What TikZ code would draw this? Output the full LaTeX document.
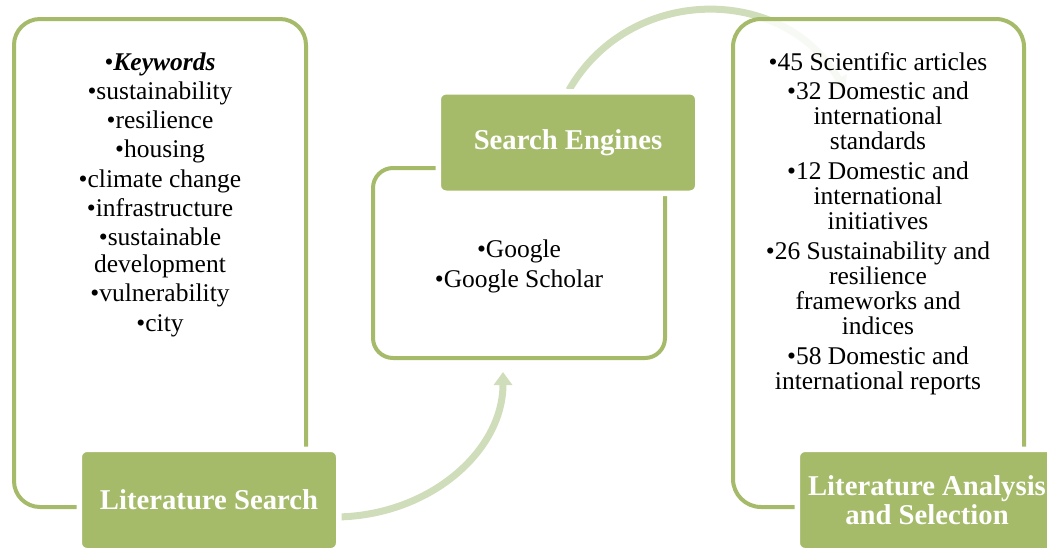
\documentclass[tikz,border=0pt]{standalone}
\usepackage{fontspec}
\setmainfont{Liberation Serif}
\usetikzlibrary{arrows.meta}
\definecolor{boxgreen}{RGB}{165,187,106}
\definecolor{flowgreen}{RGB}{208,221,186}
\begin{document}
\begin{tikzpicture}[x=1pt,y=-1pt,
  frame/.style={draw=boxgreen, line width=4pt, rounded corners=#1,
    inner sep=0pt, outer sep=0pt},
  headbox/.style={fill=boxgreen, draw=white, line width=5.5pt,
    rounded corners=7.75pt, minimum width=259.5pt, minimum height=101.5pt,
    inner sep=0pt, text=white, align=center,
    font=\fontsize{28.7}{29.5}\selectfont\bfseries},
  body/.style={align=center, inner sep=0pt, text=black},
  flow/.style={draw=flowgreen, line width=7pt,
    -{Triangle[width=18pt,length=13pt]}}
]
\useasboundingbox (0,0) rectangle (1047,549);
\clip (0,0) rectangle (1047,549);

% connectors between the steps
\coordinate (a1s) at (334,517);
\coordinate (a1e) at (503,372);
\draw[flow] (a1s) .. controls (428,517) and (503,452) .. (a1e);
\coordinate (a2s) at (569,90);
\coordinate (a2e) at (845,90);
\draw[flow] (a2s) .. controls (630,-16) and (784,-16) .. (a2e);

% outlined content panels
\node[frame=26pt, minimum width=292pt, minimum height=488pt] (lframe) at (160,263) {};
\node[frame=20pt, minimum width=292pt, minimum height=190pt] (mframe) at (519,263) {};
\node[frame=28pt, fill=white, fill opacity=0.85, minimum width=291pt,
  minimum height=488pt] (rframe) at (878.5,263) {};

% step headers
\node[headbox] (ls) at (209,500) {Literature Search};
\node[headbox] (se) at (568,142.5) {Search Engines};
\node[headbox] (la) at (927,500) {Literature Analysis\\and Selection};

% panel contents (base anchor sits on the last line)
\node[body, anchor=base, font=\fontsize{25.5}{27}\selectfont] (ltext) at (160,331)
  {\textbullet\textbf{\textit{Keywords}}\\[2.25pt]
   \textbullet sustainability\\[2.25pt]
   \textbullet resilience\\[2.25pt]
   \textbullet housing\\[2.25pt]
   \textbullet climate change\\[2.25pt]
   \textbullet infrastructure\\[2.25pt]
   \textbullet sustainable\\ development\\[2.25pt]
   \textbullet vulnerability\\[2.25pt]
   \textbullet city};
\node[body, anchor=base, font=\fontsize{25.5}{30}\selectfont] (mtext) at (519,287)
  {\textbullet Google\\
   \textbullet Google Scholar};
\node[body, anchor=base, font=\fontsize{25.5}{25}\selectfont] (rtext) at (878,389)
  {\textbullet 45 Scientific articles\\[4.75pt]
   \textbullet 32 Domestic and\\ international\\ standards\\[4.75pt]
   \textbullet 12 Domestic and\\ international\\ initiatives\\[4.75pt]
   \textbullet 26 Sustainability and\\ resilience\\ frameworks and\\ indices\\[4.75pt]
   \textbullet 58 Domestic and\\ international reports};
\end{tikzpicture}
\end{document}
